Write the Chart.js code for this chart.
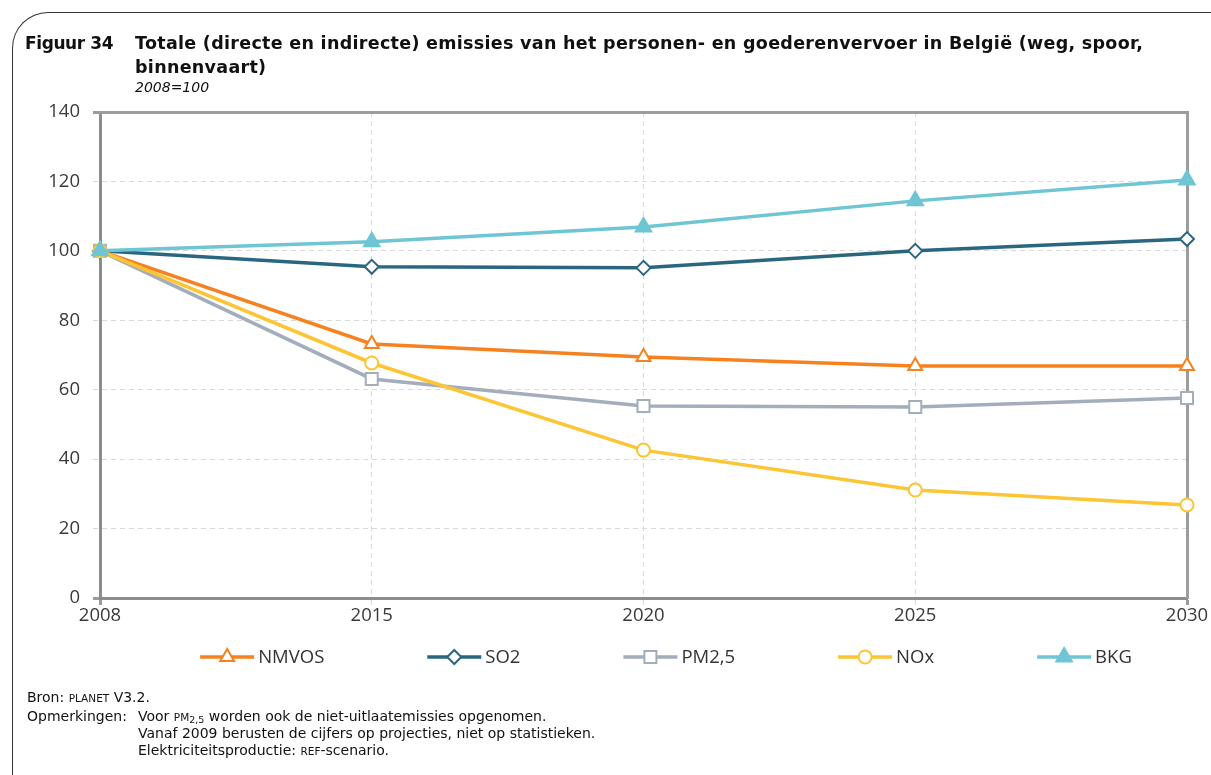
<!DOCTYPE html>
<html>
<head>
<meta charset="utf-8">
<title>Figuur 34</title>
<script src="https://cdn.jsdelivr.net/npm/chart.js@4.4.1/dist/chart.umd.min.js"></script>
<style>
  body { margin: 0; background: #fff; }
  #page { position: relative; width: 1211px; height: 775px; overflow: hidden; }
  #frame {
    position: absolute; left: 12px; top: 12px; width: 1220px; height: 800px;
    border-top: 1.5px solid #333; border-left: 1.5px solid #333;
    border-top-left-radius: 36px;
  }
  canvas { position: absolute; left: 0; top: 0; }
  .head { position: absolute; font-family: "DejaVu Sans", sans-serif; font-weight: bold;
          font-size: 17.5px; color: #111; white-space: nowrap; line-height: 24px; }
  .sub { position: absolute; left: 135px; top: 79px; font-family: "DejaVu Sans", sans-serif;
         font-style: italic; font-size: 14px; color: #111; }
  .note { position: absolute; font-family: "DejaVu Sans", sans-serif; font-size: 14px;
          color: #111; white-space: nowrap; line-height: 17px; }
  .sc { font-size: 10.5px; }
  .sc sub { font-size: 9.5px; vertical-align: -2px; }
</style>
</head>
<body>
<div id="page">
  <div id="frame"></div>
  <canvas id="emissionChart" width="1211" height="775"></canvas>
  <div class="head" style="left:25px; top:31px; font-size:17px; letter-spacing:-0.4px;">Figuur 34</div>
  <div class="head" style="left:135px; top:31px; letter-spacing:0.3px;">Totale (directe en indirecte) emissies van het personen- en goederenvervoer in België (weg, spoor,<br>binnenvaart)</div>
  <div class="sub">2008=100</div>
  <div class="note" style="left:27px; top:689px;">Bron: <span class="sc">PLANET</span> V3.2.</div>
  <div class="note" style="left:27px; top:708px;">Opmerkingen:</div>
  <div class="note" style="left:138px; top:708px;">Voor <span class="sc">PM<sub>2,5</sub></span> worden ook de niet-uitlaatemissies opgenomen.</div>
  <div class="note" style="left:138px; top:725px;">Vanaf 2009 berusten de cijfers op projecties, niet op statistieken.</div>
  <div class="note" style="left:138px; top:742px;">Elektriciteitsproductie: <span class="sc">REF</span>-scenario.</div>
</div>

<script>
// index 2008 = 100
const years = ['2008', '2015', '2020', '2025', '2030'];
const nmvos = [100, 73.2, 69.4, 66.8, 66.8];
const so2 = [100, 95.4, 95.1, 100.0, 103.4];
const pm25 = [100, 63.1, 55.3, 55.0, 57.6];
const nox = [100, 67.7, 42.6, 31.1, 26.8];
const bkg = [100, 102.6, 106.9, 114.4, 120.4];

const tickFont = { family: 'Open Sans', size: 18.5 };
const gridColor = '#d9d9d9';
const axisColor = '#8c8c8c';
const frameColor = '#9c9c9c';

// legend drawn as line + marker, the way the series look in the plot
const lineLegend = {
    id: 'lineLegend',
    afterDraw(chart, args, opts) {
        const ctx = chart.ctx;
        const sets = chart.data.datasets;
        ctx.save();
        ctx.font = opts.fontSize + 'px "' + opts.fontFamily + '"';
        const widths = sets.map(d => opts.lineLength + opts.textGap + ctx.measureText(d.label).width);
        const total = widths.reduce((a, b) => a + b, 0) + opts.itemGap * (sets.length - 1);
        let x = opts.centerX - total / 2;
        const y = opts.y;
        sets.forEach((d, i) => {
            ctx.strokeStyle = d.borderColor;
            ctx.lineWidth = d.borderWidth;
            ctx.beginPath();
            ctx.moveTo(x, y);
            ctx.lineTo(x + opts.lineLength, y);
            ctx.stroke();

            ctx.fillStyle = d.pointBackgroundColor;
            ctx.strokeStyle = d.pointBorderColor;
            ctx.lineWidth = d.pointBorderWidth;
            Chart.helpers.drawPoint(ctx, {
                pointStyle: d.pointStyle,
                radius: d.pointRadius,
                borderWidth: d.pointBorderWidth,
                rotation: 0
            }, x + opts.lineLength / 2, y);

            ctx.fillStyle = opts.color;
            ctx.textBaseline = 'middle';
            ctx.textAlign = 'left';
            ctx.fillText(d.label, x + opts.lineLength + opts.textGap, y + 1);
            x += widths[i] + opts.itemGap;
        });
        ctx.restore();
    }
};

function series(label, data, color, style, radius, filled, order) {
    return {
        label: label,
        data: data,
        borderColor: color,
        borderWidth: 3.5,
        pointStyle: style,
        pointRadius: radius,
        pointHoverRadius: radius,
        pointBorderWidth: 2,
        pointBorderColor: color,
        pointBackgroundColor: filled ? color : '#ffffff',
        tension: 0,
        order: order
    };
}

const edgeTick = c => c.index === 0 || c.index === c.chart.scales[c.scale.id].ticks.length - 1;

new Chart(document.getElementById('emissionChart').getContext('2d'), {
    type: 'line',
    data: {
        labels: years,
        datasets: [
            series('NMVOS', nmvos, '#f6821f', 'triangle', 8, false, 2),
            series('SO2', so2, '#2b6680', 'rectRot', 7, false, 3),
            series('PM2,5', pm25, '#a3adbb', 'rect', 8.5, false, 4),
            series('NOx', nox, '#fdc533', 'circle', 6.5, false, 1),
            series('BKG', bkg, '#6ec5d4', 'triangle', 9, true, 0)
        ]
    },
    options: {
        responsive: false,
        animation: false,
        layout: { padding: { left: 12, right: 24, top: 112, bottom: 147 } },
        plugins: {
            legend: { display: false },
            tooltip: { enabled: false },
            lineLegend: {
                y: 657, centerX: 666, lineLength: 54, textGap: 4, itemGap: 103,
                fontSize: 18.5, fontFamily: 'Open Sans', color: '#333'
            }
        },
        scales: {
            x: {
                type: 'category',
                offset: false,
                afterFit: s => { s.height = 30; },
                grid: {
                    color: gridColor,
                    lineWidth: 1,
                    tickLength: 7,
                    tickColor: c => edgeTick(c) ? frameColor : gridColor,
                    tickWidth: c => edgeTick(c) ? 3 : 1,
                    tickBorderDash: c => edgeTick(c) ? [] : [5, 4]
                },
                border: { display: true, color: axisColor, width: 3, dash: [5, 4] },
                ticks: { font: tickFont, color: '#3a3a3a', padding: 0, maxRotation: 0, autoSkip: false }
            },
            y: {
                min: 0,
                max: 140,
                afterFit: s => { s.width = 88; },
                grid: {
                    color: gridColor,
                    lineWidth: 1,
                    tickLength: 7,
                    tickColor: c => edgeTick(c) ? frameColor : gridColor,
                    tickWidth: c => edgeTick(c) ? 3 : 1,
                    tickBorderDash: c => edgeTick(c) ? [] : [5, 4]
                },
                border: { display: true, color: axisColor, width: 3, dash: [5, 4] },
                ticks: { stepSize: 20, font: tickFont, color: '#3a3a3a', padding: 13 }
            },
            xTop: {
                type: 'category',
                position: 'top',
                afterFit: s => { s.height = 0; },
                grid: { display: false },
                ticks: { display: false },
                border: { display: true, color: frameColor, width: 3 }
            },
            yRight: {
                min: 0,
                max: 140,
                position: 'right',
                afterFit: s => { s.width = 0; },
                grid: { display: false },
                ticks: { display: false },
                border: { display: true, color: frameColor, width: 3 }
            }
        }
    },
    plugins: [lineLegend]
});
</script>
</body>
</html>
